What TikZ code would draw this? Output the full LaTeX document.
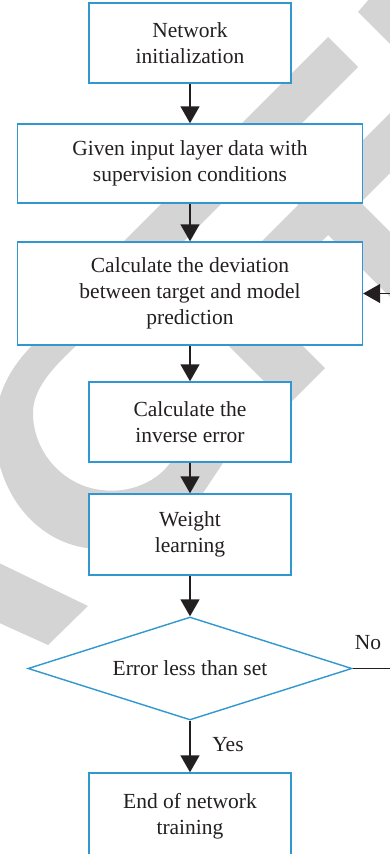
\documentclass[tikz,border=0pt]{standalone}
\usepackage{fontspec}
\setmainfont{Liberation Serif}
\usetikzlibrary{arrows.meta,shapes.geometric}
\definecolor{boxblue}{RGB}{48,152,206}
\definecolor{ink}{RGB}{35,31,32}
\definecolor{wm}{RGB}{212,212,212}
\begin{document}
\begin{tikzpicture}[x=1pt,y=-1pt,
  txt/.style={text=ink,font=\fontsize{21.5}{26}\selectfont},
  box/.style={txt,draw=boxblue,line width=1.4pt,fill=white,rectangle,align=center,inner sep=0pt},
  decision/.style={txt,draw=boxblue,line width=1.4pt,fill=white,diamond,aspect=3.15,inner sep=0pt,minimum width=324pt,minimum height=103pt},
  arr/.style={draw=ink,line width=1.4pt,-{Triangle[width=19pt,length=17pt]}},
  lbl/.style={txt,inner sep=0pt}]
\useasboundingbox (0,0) rectangle (390,854);
\clip (0,0) rectangle (390,854);
% watermark
\fill[wm] (358,12) -- (370,-2) -- (392,-2) -- (392,46) -- cycle;
\fill[wm] (328,37) -- (358,67) -- (125,300) -- (65,300) -- cycle;
\fill[wm] (392,111) -- (392,171) -- (270,293) -- (210,293) -- cycle;
\fill[wm] (300,142) -- (400,242) -- (400,307) -- (260,167) -- cycle;
\fill[wm] (325,368) -- (288,405) -- (228,345)
  .. controls (185,300) and (110,300) .. (77,345)
  .. controls (50,370) and (33,390) .. (33,413)
  .. controls (33,450) and (60,482) .. (95,489)
  .. controls (130,496) and (160,480) .. (172,460)
  -- (195,420) -- (245,425) -- (223,463) -- (203,493)
  .. controls (185,525) and (140,552) .. (95,549)
  .. controls (35,545) and (-5,490) .. (-5,430)
  .. controls (-5,395) and (10,365) .. (40,338)
  .. controls (90,290) and (210,265) .. (270,313)
  -- cycle;
\fill[wm] (-5,561) -- (88,606) -- (48,645) -- (-5,621) -- cycle;
% nodes
\node[box,minimum width=202pt,minimum height=80pt] (n1) at (190,43) {Network\\initialization};
\node[box,minimum width=345pt,minimum height=79pt] (n2) at (190,163.5) {Given input layer data with\\supervision conditions};
\node[box,minimum width=345pt,minimum height=103pt] (n3) at (190,293.5) {Calculate the deviation\\between target and model\\prediction};
\node[box,minimum width=202pt,minimum height=80pt] (n4) at (190,422) {Calculate the\\inverse error};
\node[box,minimum width=202pt,minimum height=81pt] (n5) at (190,534.5) {Weight\\learning};
\node[decision] (d) at (190,668.5) {Error less than set};
\node[box,minimum width=202pt,minimum height=86pt] (n6) at (190,816) {End of network\\training};
\node[lbl] (yes) at (228,745) {Yes};
\node[lbl] (no) at (368,643) {No};
% connectors
\draw[arr] (n1) -- (n2);
\draw[arr] (n2) -- (n3);
\draw[arr] (n3) -- (n4);
\draw[arr] (n4) -- (n5);
\draw[arr] (n5) -- (d);
\draw[arr] (d) -- (n6);
\draw[arr] (d.east) -- ++(60,0) |- (n3.east);
\end{tikzpicture}
\end{document}
